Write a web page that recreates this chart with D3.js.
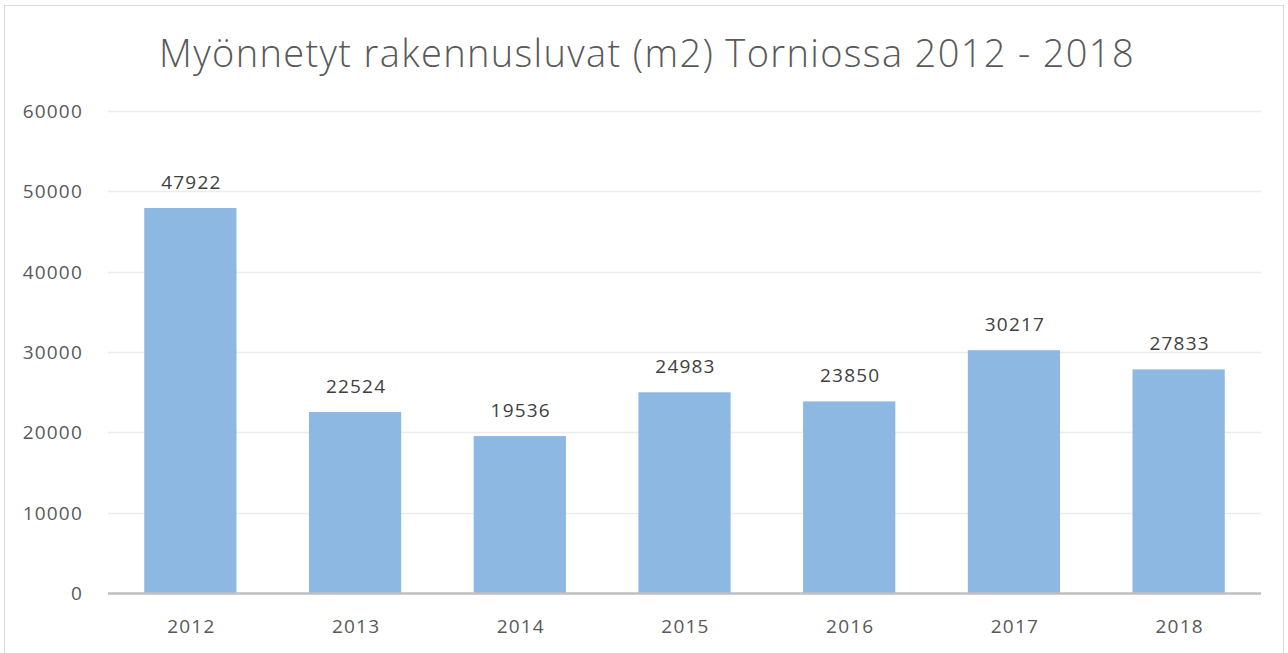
<!DOCTYPE html>
<html>
<head>
<meta charset="utf-8">
<script src="https://cdn.jsdelivr.net/npm/d3@7"></script>
<style>
  html, body { margin: 0; padding: 0; background: #fff; }
  svg { display: block; }
</style>
</head>
<body>
<div id="chart"></div>
<script>
const YEARS = ["2012","2013","2014","2015","2016","2017","2018"];
const VALUES = [47922, 22524, 19536, 24983, 23850, 30217, 27833];
const Y_TICKS = [0, 10000, 20000, 30000, 40000, 50000, 60000];
const TITLE = "Myönnetyt rakennusluvat (m2) Torniossa 2012 - 2018";

const W = 1288, H = 653;
const MG = {t:111, r:27, b:60, l:108};
const iW = W - MG.l - MG.r, iH = H - MG.t - MG.b;
const FONT = "'Open Sans', sans-serif";

const svg = d3.select("#chart").append("svg").attr("width", W).attr("height", H);

// frame
svg.append("rect").attr("x",4.5).attr("y",5.5).attr("width",W-9).attr("height",H)
  .attr("fill","#fff").attr("stroke","#d9d9d9").attr("stroke-width",1);

svg.append("text")
  .attr("x", 647).attr("y", 67)
  .attr("text-anchor","middle")
  .attr("font-family",FONT)
  .attr("font-weight",300)
  .attr("font-size",38)
  .attr("letter-spacing",1.35)
  .attr("fill","#595959")
  .text(TITLE);

const g = svg.append("g").attr("transform",`translate(${MG.l},${MG.t})`);

const x = d3.scaleBand().domain(YEARS).range([0,iW]).paddingInner(0.44).paddingOuter(0.22);
const y = d3.scaleLinear().domain([0,60000]).range([iH,0]);

// gridlines
g.selectAll(".grid").data(Y_TICKS.filter(d=>d>0)).join("line")
  .attr("x1",0).attr("x2",iW)
  .attr("y1",d=>Math.round(y(d))+0.5).attr("y2",d=>Math.round(y(d))+0.5)
  .attr("stroke","#ececec").attr("stroke-width",1.5);

// y tick labels
g.selectAll(".ylab").data(Y_TICKS).join("text")
  .attr("x",-25).attr("y",d=>y(d)+7)
  .attr("text-anchor","end")
  .attr("font-family",FONT)
  .attr("font-size",19)
  .attr("letter-spacing",1.2)
  .attr("fill","#595959")
  .text(d=>d);

// bars
g.selectAll(".bar").data(VALUES).join("rect")
  .attr("x",(d,i)=>x(YEARS[i]))
  .attr("width",x.bandwidth())
  .attr("y",d=>y(d))
  .attr("height",d=>iH-y(d))
  .attr("fill","#8cb8e2");

// value labels
g.selectAll(".vlab").data(VALUES).join("text")
  .attr("x",(d,i)=>x(YEARS[i])+x.bandwidth()/2+1)
  .attr("y",d=>y(d)-19)
  .attr("text-anchor","middle")
  .attr("font-family",FONT)
  .attr("font-size",19)
  .attr("letter-spacing",1.2)
  .attr("fill","#404040")
  .text(d=>d);

// x axis line
g.append("line").attr("x1",0).attr("x2",iW).attr("y1",iH+0.5).attr("y2",iH+0.5)
  .attr("stroke","#bfbfbf").attr("stroke-width",2.5);

// x labels
g.selectAll(".xlab").data(YEARS).join("text")
  .attr("x",d=>x(d)+x.bandwidth()/2+1)
  .attr("y",iH+40)
  .attr("text-anchor","middle")
  .attr("font-family",FONT)
  .attr("font-size",19)
  .attr("letter-spacing",1.2)
  .attr("fill","#595959")
  .text(d=>d);
</script>
</body>
</html>
